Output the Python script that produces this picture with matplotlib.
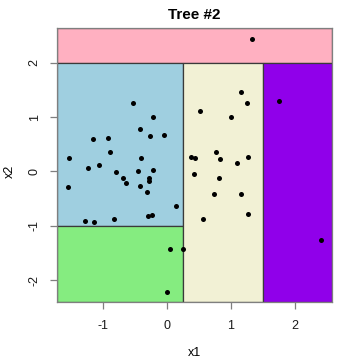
import matplotlib
matplotlib.use("Agg")
import matplotlib.pyplot as plt
from matplotlib.patches import Rectangle

plt.rcParams['font.family'] = ['Liberation Sans', 'DejaVu Sans']

# data points
x1 = [1.333, -0.536, -0.219, -0.427, -1.156, -0.917, -0.271, -0.052, 1.156, 1.245,
      1.755, 0.51, 0.995, -0.885, -1.531, -0.406, -1.057, -1.229, -0.792, -0.448,
      -0.219, -0.682, -0.281, -0.286, -0.641, -1.552, -0.422, -0.318, 0.135, -1.276,
      -1.141, -0.823, -0.297, -0.229, 0.771, 0.38, 0.443, 0.833, 1.266, 1.089,
      0.417, 0.807, 0.729, 1.151, 0.5625, 1.271, 2.406, 0.052, 0.255, 0.0]
x2 = [2.436, 1.258, 0.994, 0.773, 0.60, 0.615, 0.65, 0.668, 1.46, 1.264,
      1.30, 1.105, 1.0, 0.361, 0.25, 0.239, 0.122, 0.067, -0.013, 0.006,
      0.018, -0.117, -0.117, -0.173, -0.221, -0.283, -0.277, -0.375, -0.645, -0.909,
      -0.94, -0.878, -0.817, -0.799, 0.361, 0.258, 0.252, 0.233, 0.27, 0.147,
      -0.05, -0.117, -0.424, -0.418, -0.873, -0.792, -1.265, -1.437, -1.425, -2.223]

# tree partition
xlim = (-1.714, 2.573)
ylim = (-2.41, 2.633)
split_x = [0.255, 1.5]
split_y = [-1.0, 2.0]
region_colors = {
    'top': '#FFB0C1',
    'blue': '#9FCFE0',
    'green': '#85EC80',
    'beige': '#F2F1D5',
    'purple': '#9000EA',
}

fig = plt.figure(figsize=(3.6, 3.6), dpi=100)
ax = fig.add_axes([57.3/360, 1-302.3/360, (331.7-57.3)/360, (302.3-28.3)/360])
ax.set_xlim(*xlim)
ax.set_ylim(*ylim)

ec = '#3a3a3a'
lw = 0.9
# regions
regions = [
    (xlim[0], split_y[1], xlim[1], ylim[1], region_colors['top']),
    (xlim[0], split_y[0], split_x[0], split_y[1], region_colors['blue']),
    (xlim[0], ylim[0], split_x[0], split_y[0], region_colors['green']),
    (split_x[0], ylim[0], split_x[1], split_y[1], region_colors['beige']),
    (split_x[1], ylim[0], xlim[1], split_y[1], region_colors['purple']),
]
for (a, b, c, d, col) in regions:
    ax.add_patch(Rectangle((a, b), c - a, d - b, facecolor=col, edgecolor=ec,
                           linewidth=lw, zorder=1))

ax.scatter(x1, x2, s=13, color='black', zorder=3, linewidths=0)

for s in ax.spines.values():
    s.set_color('#7f7f7f')
    s.set_linewidth(0.9)

ax.set_xticks([-1, 0, 1, 2])
ax.set_yticks([-2, -1, 0, 1, 2])
ax.set_xticklabels(['-1', '0', '1', '2'])
ax.set_yticklabels(['-2', '-1', '0', '1', '2'])
ax.tick_params(axis='both', direction='out', length=5, width=0.9, color='#7f7f7f',
               labelsize=9, labelcolor='#1a1a1a')
ax.tick_params(axis='x', pad=8)
ax.tick_params(axis='y', pad=7)
plt.setp(ax.get_yticklabels(), rotation=90, va='center')

fig.text(194.5/360, 1-15/360, 'Tree #2', ha='center', va='center', fontsize=11,
         fontweight='bold')
fig.text(194.5/360, 1-353/360, 'x1', ha='center', va='center', fontsize=9)
fig.text(10/360, 1-171/360, 'x2', ha='center', va='center', fontsize=9, rotation=90)

fig.savefig('out.png', dpi=100)
